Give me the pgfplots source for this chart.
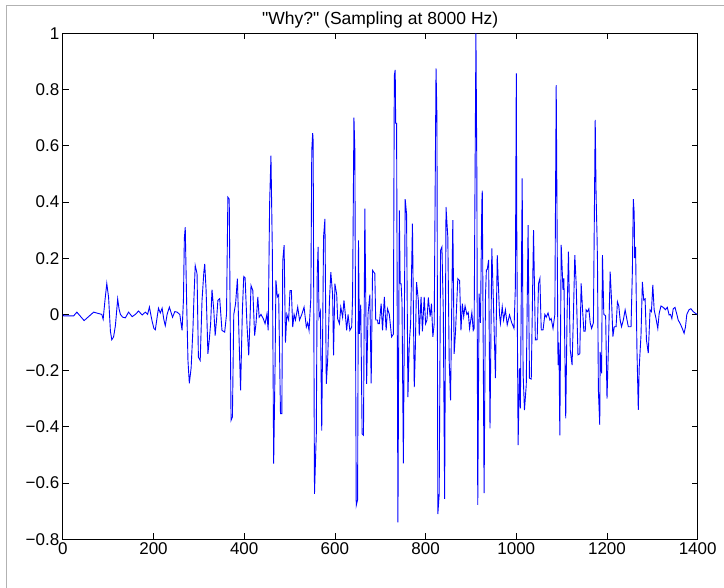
\documentclass[border=0pt]{standalone}
\usepackage{fontspec}
\setmainfont{Liberation Sans}[Ligatures=TeXOff]
\usepackage{pgfplots}
\pgfplotsset{compat=1.18}
\begin{document}
\begin{tikzpicture}[x=1pt,y=1pt]
\useasboundingbox (0,0) rectangle (724,588);
\fill[white] (0,0) rectangle (724,588);
\draw[gray!60, line width=1.5pt] (6.5,0) -- (6.5,582.5) -- (724,582.5);
\begin{axis}[
  at={(62.8pt,48.7pt)}, anchor=south west,
  width=634.9pt, height=506pt, scale only axis,
  xmin=0, xmax=1400, ymin=-0.8, ymax=1,
  xtick={0,200,400,600,800,1000,1200,1400},
  ytick={-0.8,-0.6,-0.4,-0.2,0,0.2,0.4,0.6,0.8,1},
  xticklabels={0,200,400,600,800,1000,1200,1400},
  yticklabels={−0.8,−0.6,−0.4,−0.2,0,0.2,0.4,0.6,0.8,1},
  tick align=inside, major tick length=6pt,
  tick style={black, line width=0.8pt},
  axis line style={black, line width=1pt},
  ticklabel style={font=\fontsize{17}{20}\selectfont},
  title={"Why?" (Sampling at 8000 Hz)},
  title style={font=\fontsize{17.5}{20}\selectfont, at={(0.5,1)}, anchor=center, yshift=7pt},
]
\addplot[blue, line width=0.9pt] table {
0 0
2 -0.005
24 -0.005
31 0.008
47 -0.022
68 0.008
86 0.0
89 -0.017
93 0.05
97 0.11
101 0.06
105 -0.06
108 -0.09
112 -0.08
116 -0.04
121 0.055
124 0.02
127 0.0
132 -0.01
138 -0.012
145 0.008
153 -0.008
160 0.0
167 0.012
175 -0.002
182 0.008
187 0.0
191 0.026
194 0.0
197 -0.025
201 -0.05
204 -0.055
208 -0.01
211 0.022
215 0.005
219 0.022
223 -0.02
226 -0.04
230 0.0
235 0.026
242 -0.01
247 0.01
252 0.008
258 0.0
263 -0.057
266 0.05
268 0.27
270 0.31
273 0.05
276 -0.164
279 -0.245
283 -0.19
287 -0.05
289 0.05
292 0.174
296 0.145
299 -0.152
303 -0.164
307 0.05
311 0.15
313 0.18
316 0.085
320 -0.14
323 -0.09
326 -0.033
329 0.088
333 0.014
336 -0.075
339 -0.02
342 0.05
346 0.056
351 -0.057
354 -0.06
357 -0.063
361 0.0
364 0.417
367 0.41
369 0.0
371 -0.377
374 -0.365
377 0.0
381 0.038
385 0.127
389 -0.104
392 -0.27
396 0.014
399 0.135
402 0.13
406 -0.033
410 -0.146
413 -0.01
415 0.103
419 0.085
423 -0.075
426 -0.033
430 0.062
433 -0.01
437 0.0
442 -0.015
446 -0.033
450 0.0
453 -0.057
456 0.39
459 0.565
462 0.228
465 -0.531
468 -0.19
470 0.121
473 0.062
476 0.07
480 -0.353
483 -0.353
485 0.19
488 0.246
491 -0.1
494 0.0
498 -0.02
501 0.085
504 0.085
507 -0.045
510 0.0
513 -0.02
518 0.026
522 -0.02
527 0.0
532 0.026
537 -0.045
540 -0.03
543 -0.057
547 0.06
549 0.584
551 0.645
552 0.62
555 -0.638
559 -0.425
561 0.145
563 0.24
565 -0.01
568 0.01
571 -0.413
575 0.275
578 0.34
581 -0.247
584 -0.164
588 0.05
591 0.15
595 0.07
597 -0.146
600 0.109
604 0.07
606 -0.015
610 -0.033
613 0.026
617 -0.01
620 0.05
623 0.0
626 -0.057
629 0.0
633 -0.057
637 -0.045
639 0.062
642 0.70
644 0.584
647 -0.68
650 -0.66
652 0.263
654 -0.069
657 0.035
660 -0.425
663 -0.43
666 0.376
670 -0.247
673 0.0
677 0.07
680 -0.245
683 0.157
688 0.145
690 -0.02
694 -0.02
695 -0.033
698 -0.033
702 0.038
705 -0.057
709 0.062
713 -0.057
716 0.02
720 0.0
725 -0.08
729 -0.07
731 0.85
733 0.87
734 0.68
736 0.68
739 -0.74
742 0.37
744 0.109
746 0.109
748 0.04
751 -0.53
755 0.41
758 0.358
761 -0.294
764 -0.104
767 -0.033
771 0.323
775 -0.259
777 -0.15
780 0.115
784 0.05
786 -0.075
790 0.062
793 -0.06
797 0.062
800 -0.033
803 -0.02
806 0.06
810 -0.008
813 0.038
816 -0.08
819 -0.033
823 0.875
825 0.70
827 -0.71
830 -0.64
833 0.228
836 0.24
839 0.014
842 -0.656
845 0.382
849 0.275
852 -0.164
855 -0.306
860 0.335
863 -0.14
866 -0.06
871 0.127
875 0.12
878 -0.057
881 0.038
884 -0.008
887 0.03
891 0.0
894 0.007
897 -0.05
902 0.007
905 -0.057
907 -0.05
911 1.0
913 0.5
915 -0.678
918 0.074
921 -0.03
924 0.40
925 0.44
929 -0.636
932 0.063
934 0.158
936 0.16
939 0.194
942 -0.405
946 0.235
949 0.075
954 -0.227
958 0.211
963 0.0
965 -0.032
969 0.027
972 -0.02
976 0.016
980 -0.037
985 -0.002
990 -0.03
995 -0.05
998 0.1
1000 0.857
1001 0.32
1004 -0.465
1007 -0.192
1009 -0.334
1013 0.484
1015 -0.21
1018 -0.34
1022 -0.25
1026 0.318
1029 -0.227
1033 -0.23
1038 0.30
1042 -0.091
1046 -0.09
1049 0.11
1052 0.128
1055 -0.055
1059 -0.055
1063 0.0
1066 -0.01
1070 0.005
1074 -0.02
1077 -0.015
1081 -0.05
1085 0.0
1088 0.816
1090 0.3
1092 -0.18
1094 -0.1
1096 -0.43
1099 0.247
1103 0.087
1105 0.128
1109 -0.37
1112 0.0
1115 0.223
1119 -0.127
1123 -0.18
1126 0.0
1129 0.211
1132 0.11
1136 -0.144
1140 -0.14
1143 0.11
1146 0.02
1149 -0.06
1152 -0.06
1154 0.016
1157 0.01
1160 0.02
1163 -0.03
1166 -0.05
1170 -0.03
1174 0.692
1176 0.42
1178 0.28
1179 0.19
1181 -0.27
1184 -0.393
1185 -0.133
1188 -0.21
1190 0.211
1193 0.0
1197 -0.005
1200 -0.3
1203 -0.127
1207 0.152
1210 0.051
1213 -0.079
1216 -0.044
1220 -0.044
1223 0.045
1226 0.03
1229 -0.02
1232 -0.044
1236 -0.02
1240 0.016
1243 -0.01
1247 -0.044
1253 -0.044
1256 0.158
1258 0.41
1260 0.36
1261 0.2
1263 0.24
1266 -0.121
1269 -0.34
1271 -0.19
1275 -0.073
1278 0.116
1281 0.051
1284 0.055
1287 -0.091
1291 -0.138
1295 0.016
1298 0.01
1301 0.105
1304 0.016
1308 -0.014
1312 -0.05
1315 0.003
1319 0.03
1324 0.025
1329 0.017
1333 0.025
1337 -0.002
1340 0.0
1343 -0.015
1346 0.02
1350 0.025
1354 0.0
1357 -0.02
1362 -0.035
1366 -0.05
1370 -0.067
1373 -0.045
1376 0.0
1381 0.017
1385 0.02
1390 0.01
1394 0.005
1399 0.0
};
\end{axis}
\end{tikzpicture}
\end{document}
